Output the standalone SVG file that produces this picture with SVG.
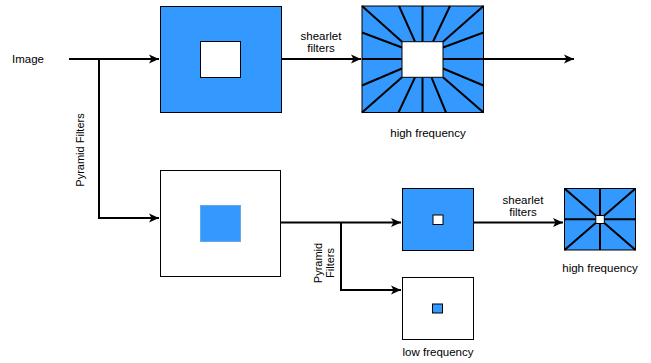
<svg xmlns="http://www.w3.org/2000/svg" width="651" height="363" viewBox="0 0 651 363">
<defs>
<style>
.blue{fill:#3399ff;stroke:#000;stroke-width:1}
.white{fill:#fff;stroke:#000;stroke-width:1}
.inblue{fill:#3399ff;stroke:#6aa8e0;stroke-width:1}
.conn{fill:none;stroke:#000;stroke-width:2}
.fan{stroke:#000;stroke-width:2;stroke-linecap:butt}
text{font-family:"Liberation Sans",Arial,sans-serif;font-size:11.5px;fill:#000}
text.rot{font-size:11px}
</style>
<marker id="arr" markerWidth="11" markerHeight="10" refX="10" refY="5" orient="auto" markerUnits="userSpaceOnUse">
<path d="M0,0.5 L10,5 L0,9.5 L2.5,5 z" fill="#000"/>
</marker>
</defs>
<rect width="651" height="363" fill="#fff"/>
<text x="12" y="63">Image</text>
<g id="connectors">
<path class="conn" d="M69,59 H159" marker-end="url(#arr)"/>
<path class="conn" d="M99,59 V218 H159" marker-end="url(#arr)"/>
<path class="conn" d="M281.5,59 H361" marker-end="url(#arr)"/>
<path class="conn" d="M483.5,59 H574" marker-end="url(#arr)"/>
<path class="conn" d="M281,222.5 H401" marker-end="url(#arr)"/>
<path class="conn" d="M341,222.5 V290 H401" marker-end="url(#arr)"/>
<path class="conn" d="M473.5,222.5 H563" marker-end="url(#arr)"/>
</g>
<text class="rot" transform="translate(84,150) rotate(-90)" text-anchor="middle">Pyramid Filters</text>
<text x="321" y="39.5" text-anchor="middle">shearlet</text>
<text x="321" y="51.5" text-anchor="middle">filters</text>
<text x="523" y="204" text-anchor="middle">shearlet</text>
<text x="523" y="216" text-anchor="middle">filters</text>
<text class="rot" transform="translate(322,263) rotate(-90)" text-anchor="middle">Pyramid</text>
<text class="rot" transform="translate(334,263) rotate(-90)" text-anchor="middle">Filters</text>
<g id="node-image-high">
<rect class="blue" x="160.5" y="6.5" width="121" height="106"/>
<rect class="white" x="200.5" y="41.5" width="40" height="36"/>
</g>
<g id="node-image-low">
<rect class="white" x="160.5" y="170.5" width="120" height="106"/>
<rect class="inblue" x="200.5" y="205.5" width="40" height="36"/>
</g>
<g id="node-shearlet-high">
<rect class="blue" x="362" y="6" width="121.5" height="106.5"/>
<g class="fan">
<line x1="362" y1="6" x2="402" y2="41.7"/>
<line x1="399" y1="6" x2="415" y2="41.7"/>
<line x1="422.5" y1="6" x2="422.5" y2="41.7"/>
<line x1="450" y1="6" x2="433" y2="41.7"/>
<line x1="483.5" y1="6" x2="443" y2="41.7"/>
<line x1="362" y1="32.5" x2="402" y2="47.5"/>
<line x1="362" y1="59" x2="402" y2="59"/>
<line x1="362" y1="85.5" x2="402" y2="68.5"/>
<line x1="362" y1="112.5" x2="402" y2="77.3"/>
<line x1="483.5" y1="32.5" x2="443" y2="47.5"/>
<line x1="483.5" y1="59" x2="443" y2="59"/>
<line x1="483.5" y1="85.5" x2="443" y2="68.5"/>
<line x1="483.5" y1="112.5" x2="443" y2="77.3"/>
<line x1="398.5" y1="112.5" x2="415" y2="77.3"/>
<line x1="422.5" y1="112.5" x2="422.5" y2="77.3"/>
<line x1="446" y1="112.5" x2="431.5" y2="77.3"/>
</g>
<rect class="white" x="402" y="41.7" width="41" height="35.6"/>
</g>
<text x="428" y="137" text-anchor="middle">high frequency</text>
<g id="node-mid-high">
<rect class="blue" x="402.5" y="188.5" width="71" height="62"/>
<rect class="white" x="433" y="215" width="10" height="9.5"/>
</g>
<g id="node-low">
<rect class="white" x="402.5" y="277.5" width="71" height="62"/>
<rect class="blue" x="432.5" y="304" width="10" height="9"/>
</g>
<text x="438" y="356" text-anchor="middle">low frequency</text>
<g id="node-shearlet-small">
<rect class="blue" x="564.5" y="188.5" width="71" height="61.5"/>
<g class="fan">
<line x1="564.5" y1="188.5" x2="635.5" y2="250"/>
<line x1="635.5" y1="188.5" x2="564.5" y2="250"/>
<line x1="600" y1="188.5" x2="600" y2="250"/>
<line x1="564.5" y1="219.3" x2="635.5" y2="219.3"/>
</g>
<rect class="white" x="595.8" y="215.5" width="8.5" height="8"/>
</g>
<text x="600" y="272" text-anchor="middle">high frequency</text>
</svg>
